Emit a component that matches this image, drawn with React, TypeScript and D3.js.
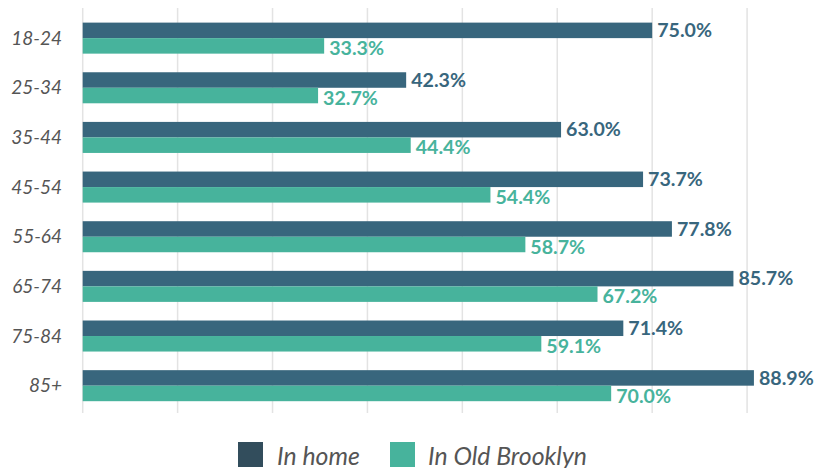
import React from "react";
import * as d3 from "d3";

const categories = ["18-24", "25-34", "35-44", "45-54", "55-64", "65-74", "75-84", "85+"];
const inHome = [75.0, 42.6, 63.0, 73.8, 77.6, 85.7, 71.2, 88.4];
const inOldBrooklyn = [31.8, 31.0, 43.2, 53.7, 58.3, 67.8, 60.4, 69.6];
const inHomeLabels = ["75.0%", "42.3%", "63.0%", "73.7%", "77.8%", "85.7%", "71.4%", "88.9%"];
const inOldBrooklynLabels = ["33.3%", "32.7%", "44.4%", "54.4%", "58.7%", "67.2%", "59.1%", "70.0%"];
const gridTicks = [0, 12.5, 25, 37.5, 50, 62.5, 75, 87.5];
const seriesNames = ["In home", "In Old Brooklyn"];

const W = 814;
const H = 468;
const DARK = "#38667d";
const TEAL = "#47b39c";
const LEGEND_DARK = "#324d5c";
const GRAY = "#555555";

export default function App() {
  const x = d3.scaleLinear().domain([0, 100]).range([82.7, 842]);
  const groupStep = 49.65;
  const y = d3
    .scaleBand<string>()
    .domain(categories)
    .range([22.6 - 9.3, 22.6 - 9.3 + groupStep * categories.length])
    .paddingInner(0.375)
    .paddingOuter(0.1875);
  const bh = y.bandwidth() / 2;

  return (
    <svg
      width={W}
      height={H}
      style={{ position: "absolute", left: 0, top: 0, background: "#fff" }}
      fontFamily="Lato, 'Open Sans', sans-serif"
    >
      {gridTicks.map((t) => (
        <line key={t} x1={x(t)} x2={x(t)} y1={8} y2={413} stroke="#e3e3e3" strokeWidth={1.5} />
      ))}
      {categories.map((c, i) => {
        const top = y(c)!;
        return (
          <g key={c}>
            <text
              x={62}
              y={top + bh}
              dy="0.35em"
              textAnchor="end"
              fontStyle="italic"
              fontSize={19}
              fill={GRAY}
            >
              {c}
            </text>
            <rect x={x(0)} y={top} width={x(inHome[i]) - x(0)} height={bh} fill={DARK} />
            <rect x={x(0)} y={top + bh} width={x(inOldBrooklyn[i]) - x(0)} height={bh} fill={TEAL} />
            <text x={x(inHome[i]) + 5} y={top + 14.5} fontWeight="bold" fontSize={19.6} fill={DARK}>
              {inHomeLabels[i]}
            </text>
            <text x={x(inOldBrooklyn[i]) + 5} y={top + bh + 17} fontWeight="bold" fontSize={19.6} fill={TEAL}>
              {inOldBrooklynLabels[i]}
            </text>
          </g>
        );
      })}
      <g>
        <rect x={238} y={442} width={25} height={25} fill={LEGEND_DARK} />
        <text x={277} y={465} fontStyle="italic" fontSize={24.8} fill={GRAY}>
          {seriesNames[0]}
        </text>
        <rect x={390} y={442} width={25} height={25} fill={TEAL} />
        <text x={428} y={465} fontStyle="italic" fontSize={24.8} fill={GRAY}>
          {seriesNames[1]}
        </text>
      </g>
    </svg>
  );
}
